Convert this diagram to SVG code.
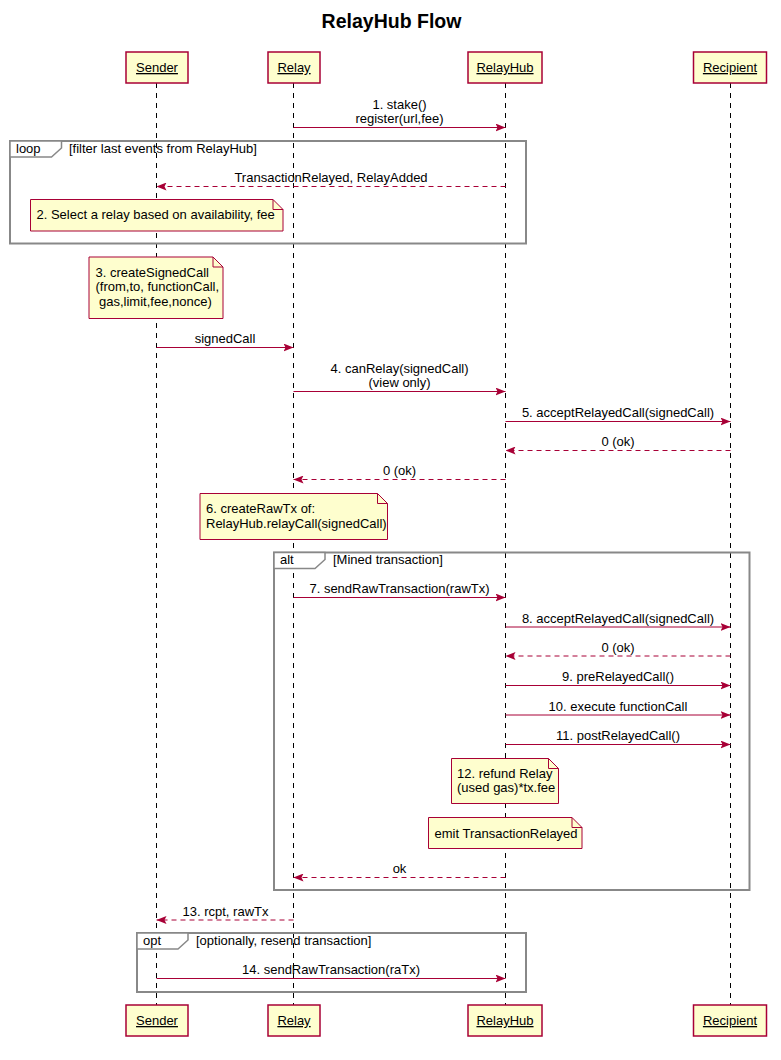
<svg xmlns="http://www.w3.org/2000/svg" width="781" height="1060" viewBox="0 0 781 1060">
<style>
text{font-family:"Liberation Sans",Arial,sans-serif;font-size:13px;fill:#000}
.title{font-size:19.5px;font-weight:bold}
.c{text-anchor:middle}
.pbox{fill:#FEFECE;stroke:#A80036;stroke-width:1.5}
.pname{text-decoration:underline;text-anchor:middle}
.ll{stroke:#000;stroke-width:1;stroke-dasharray:5,5;fill:none}
.msg{stroke:#A80036;stroke-width:1;fill:none;marker-end:url(#ah)}
.ret{stroke-dasharray:5,4}
.note{fill:#FEFECE;stroke:#A80036;stroke-width:1}
.fold{fill:none;stroke:#A80036;stroke-width:1}
.frame{fill:none;stroke:#888;stroke-width:2}
.tab{fill:#fff;stroke:#888;stroke-width:1.5}
</style>
<defs>
<marker id="ah" markerUnits="userSpaceOnUse" viewBox="0 0 10 8" refX="10" refY="4" markerWidth="10" markerHeight="8" orient="auto">
<path d="M0,0 L10,4 L0,8 L2,4 Z" fill="#A80036" stroke="none"/>
</marker>
</defs>
<rect width="781" height="1060" fill="#fff"/>
<text class="title c" x="391.5" y="28">RelayHub Flow</text>

<g id="lifelines">
<line class="ll" x1="156.5" y1="83" x2="156.5" y2="1005"/>
<line class="ll" x1="293.5" y1="83" x2="293.5" y2="1005"/>
<line class="ll" x1="505.5" y1="83" x2="505.5" y2="1005"/>
<line class="ll" x1="730.5" y1="83" x2="730.5" y2="1005"/>
</g>

<g id="participants">
<g id="p-sender"><rect class="pbox" x="126" y="52" width="62" height="31"/><text class="pname" x="157" y="72">Sender</text>
<rect class="pbox" x="126" y="1005" width="62" height="31"/><text class="pname" x="157" y="1025">Sender</text></g>
<g id="p-relay"><rect class="pbox" x="268" y="52" width="52" height="31"/><text class="pname" x="294" y="72">Relay</text>
<rect class="pbox" x="268" y="1005" width="52" height="31"/><text class="pname" x="294" y="1025">Relay</text></g>
<g id="p-relayhub"><rect class="pbox" x="468" y="52" width="74" height="31"/><text class="pname" x="505" y="72">RelayHub</text>
<rect class="pbox" x="468" y="1005" width="74" height="31"/><text class="pname" x="505" y="1025">RelayHub</text></g>
<g id="p-recipient"><rect class="pbox" x="693.5" y="52" width="73" height="31"/><text class="pname" x="730" y="72">Recipient</text>
<rect class="pbox" x="693.5" y="1005" width="73" height="31"/><text class="pname" x="730" y="1025">Recipient</text></g>
</g>

<g id="frames">
<g id="loop"><rect class="frame" x="10" y="141" width="516" height="102.5"/>
<path class="tab" d="M10,141 H61.5 V148 L51.5,157 H10 Z"/>
<text x="16" y="153">loop</text><text x="69" y="153">[filter last events from RelayHub]</text></g>
<g id="alt"><rect class="frame" x="274" y="552.5" width="475.5" height="337.5"/>
<path class="tab" d="M274,552.5 H325 V559.5 L315,568.5 H274 Z"/>
<text x="280" y="564">alt</text><text x="333" y="564">[Mined transaction]</text></g>
<g id="opt"><rect class="frame" x="137" y="933" width="389" height="59"/>
<path class="tab" d="M137,933 H188 V940 L178,949 H137 Z"/>
<text x="143" y="945">opt</text><text x="196" y="945">[optionally, resend transaction]</text></g>
</g>

<g id="notes">
<g id="note2"><path class="note" d="M30.5,199.5 H273 L283,209.5 V231 H30.5 Z"/><path class="fold" d="M273,199.5 V209.5 H283"/>
<text x="36.5" y="219">2. Select a relay based on availability, fee</text></g>
<g id="note3"><path class="note" d="M89,257 H213 L223,267 V318.5 H89 Z"/><path class="fold" d="M213,257 V267 H223"/>
<text x="95.5" y="276.5">3. createSignedCall</text><text x="95.5" y="291">(from,to, functionCall,</text><text x="99" y="305.5">gas,limit,fee,nonce)</text></g>
<g id="note6"><path class="note" d="M200,493.5 H377.5 L387.5,503.5 V539.5 H200 Z"/><path class="fold" d="M377.5,493.5 V503.5 H387.5"/>
<text x="206" y="513">6. createRawTx of:</text><text x="206" y="528">RelayHub.relayCall(signedCall)</text></g>
<g id="note12"><path class="note" d="M451.5,758.5 H548.5 L558.5,768.5 V803.5 H451.5 Z"/><path class="fold" d="M548.5,758.5 V768.5 H558.5"/>
<text x="457" y="777.5">12. refund Relay</text><text x="457" y="792">(used gas)*tx.fee</text></g>
<g id="noteEmit"><path class="note" d="M428.5,817.5 H572 L582,827.5 V848.5 H428.5 Z"/><path class="fold" d="M572,817.5 V827.5 H582"/>
<text x="434.5" y="837.5">emit TransactionRelayed</text></g>
</g>

<g id="connectors">
<line class="msg" x1="293.5" y1="127.5" x2="505.5" y2="127.5"/>
<text class="c" x="399.5" y="108.5">1. stake()</text><text class="c" x="399.5" y="123">register(url,fee)</text>
<line class="msg ret" x1="505.5" y1="186.5" x2="156.5" y2="186.5"/>
<text class="c" x="331" y="182">TransactionRelayed, RelayAdded</text>
<line class="msg" x1="156.5" y1="347.5" x2="293.5" y2="347.5"/>
<text class="c" x="225" y="343">signedCall</text>
<line class="msg" x1="293.5" y1="391.5" x2="505.5" y2="391.5"/>
<text class="c" x="399.5" y="372.5">4. canRelay(signedCall)</text><text class="c" x="399.5" y="387">(view only)</text>
<line class="msg" x1="505.5" y1="421.5" x2="730.5" y2="421.5"/>
<text class="c" x="618" y="417">5. acceptRelayedCall(signedCall)</text>
<line class="msg ret" x1="730.5" y1="450.5" x2="505.5" y2="450.5"/>
<text class="c" x="618" y="446">0 (ok)</text>
<line class="msg ret" x1="505.5" y1="479.5" x2="293.5" y2="479.5"/>
<text class="c" x="399.5" y="475">0 (ok)</text>
<line class="msg" x1="293.5" y1="597.5" x2="505.5" y2="597.5"/>
<text class="c" x="399.5" y="593">7. sendRawTransaction(rawTx)</text>
<line class="msg" x1="505.5" y1="627" x2="730.5" y2="627"/>
<text class="c" x="618" y="622.5">8. acceptRelayedCall(signedCall)</text>
<line class="msg ret" x1="730.5" y1="656" x2="505.5" y2="656"/>
<text class="c" x="618" y="651.5">0 (ok)</text>
<line class="msg" x1="505.5" y1="685.5" x2="730.5" y2="685.5"/>
<text class="c" x="618" y="681">9. preRelayedCall()</text>
<line class="msg" x1="505.5" y1="715" x2="730.5" y2="715"/>
<text class="c" x="618" y="710.5">10. execute functionCall</text>
<line class="msg" x1="505.5" y1="744.5" x2="730.5" y2="744.5"/>
<text class="c" x="618" y="740">11. postRelayedCall()</text>
<line class="msg ret" x1="505.5" y1="877.5" x2="293.5" y2="877.5"/>
<text class="c" x="399.5" y="873">ok</text>
<line class="msg ret" x1="293.5" y1="920" x2="156.5" y2="920"/>
<text class="c" x="225.5" y="915.5">13. rcpt, rawTx</text>
<line class="msg" x1="156.5" y1="978.5" x2="505.5" y2="978.5"/>
<text class="c" x="331" y="974">14. sendRawTransaction(raTx)</text>
</g>
</svg>
